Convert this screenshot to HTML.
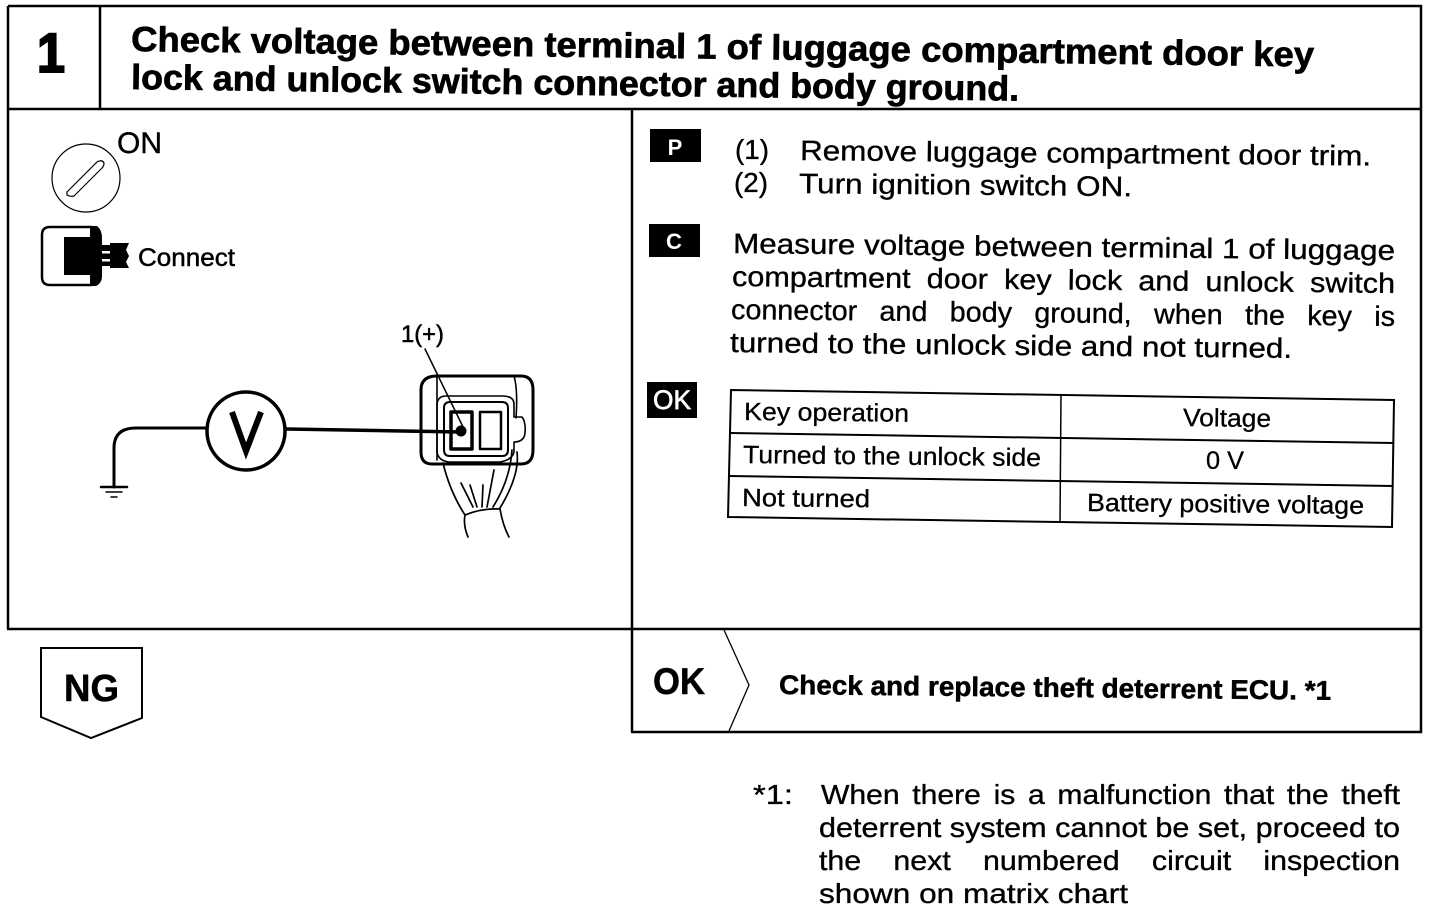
<!DOCTYPE html>
<html><head><meta charset="utf-8"><style>
html,body{margin:0;padding:0;background:#fff}
svg{display:block}
text{font-family:"Liberation Sans",sans-serif;fill:#000}
.b{font-weight:bold}
</style></head><body>
<svg width="1440" height="910" viewBox="0 0 1440 910" xmlns="http://www.w3.org/2000/svg">
<g fill="none" stroke="#000" stroke-width="2.5">
<path d="M8 6H1421V732H631M8 6V629M8 109H1421M100 6V109M632 109V732M7 629H1421"/>
</g>
<text x="37" y="72" class="b" font-size="56" textLength="28" lengthAdjust="spacingAndGlyphs" stroke="#000" stroke-width="2">1</text>
<g stroke="#000" stroke-width=".7">
<text x="131" y="51" class="b" font-size="35" textLength="1183" lengthAdjust="spacingAndGlyphs" transform="rotate(0.75 131 51)">Check voltage between terminal 1 of luggage compartment door key</text>
<text x="131" y="89" class="b" font-size="35" textLength="888" lengthAdjust="spacingAndGlyphs" transform="rotate(0.75 131 89)">lock and unlock switch connector and body ground.</text>
</g>

<!-- ignition -->
<text x="117" y="153" font-size="30" textLength="45" lengthAdjust="spacingAndGlyphs" stroke="#000" stroke-width=".4">ON</text>
<circle cx="86" cy="178" r="34" fill="none" stroke="#000" stroke-width="1.2"/>
<path d="M67 192L97 162Q102 159 104 163Q104 166 102 168L74 196Q70 197 67 195Z" fill="none" stroke="#000" stroke-width="1.2"/>
<!-- connector icon -->
<path d="M92 227H50Q42 227 42 235V277Q42 285 50 285H92" fill="#fff" stroke="#000" stroke-width="2.5"/>
<path d="M64 237H90V226H97Q102 230 102 238V245H110V243H129L126 250L129 256L126 262L129 268H110V266H102V276Q102 283 96 286H90V275H64Z" fill="#000"/>
<rect x="102" y="251" width="8" height="2.5" fill="#fff"/><rect x="102" y="259" width="8" height="2.5" fill="#fff"/>
<text x="138" y="266" font-size="25" textLength="97" lengthAdjust="spacingAndGlyphs" stroke="#000" stroke-width=".5">Connect</text>

<!-- meter -->
<text x="401" y="342" font-size="24" textLength="43" lengthAdjust="spacingAndGlyphs" stroke="#000" stroke-width=".5">1(+)</text>
<g fill="none" stroke="#000" stroke-linejoin="round" stroke-linecap="round">
<path d="M205 428H136Q114 428 114 448V487" stroke-width="3"/>
<path d="M101 487H127" stroke-width="2.5"/>
<path d="M106 492H122" stroke-width="1.5"/>
<path d="M111 497H117" stroke-width="1.5"/>
<circle cx="246" cy="431" r="39" stroke-width="3.5"/>
<path d="M232 412L246 451L261 412" stroke-width="6" stroke-linecap="butt" stroke-linejoin="miter"/>
<path d="M287 429L461 432" stroke-width="3.5"/>
<path d="M425 349L465 431" stroke-width="1.5"/>
<path d="M437 376H521Q533 376 533 390V450Q533 464 521 464H432Q421 464 421 452V390Q421 376 437 376Z" stroke-width="3"/>
<path d="M437 374V460M514 376Q518 390 516 418" stroke-width="1.6"/>
<path d="M446 396H502Q514 396 514 404V417H522Q526 422 525 433Q524 442 514 442V452Q512 460 500 462H448Q438 460 437 452V404Q438 396 446 396Z" stroke-width="1.6"/>
<path d="M450 402H502Q508 402 508 408V450Q508 456 502 456H450Q444 456 444 450V408Q444 402 450 402Z" stroke-width="2"/>
<rect x="451" y="412" width="21" height="37" stroke-width="3.5"/>
<rect x="480" y="412" width="21" height="37" stroke-width="2.5"/>
<path d="M443 463Q450 492 465 515M517 452Q520 475 500 508M461 483L473 507M470 485L477 507M483 485L482 507M494 470L487 507M512 450Q510 480 493 507" stroke-width="1.7"/>
<path d="M465 515Q482 508 500 509M465 515Q463 525 468 537M500 509Q503 526 509 537" stroke-width="1.7"/>
</g>
<circle cx="461" cy="431" r="5.5" fill="#000"/>

<!-- badges -->
<rect x="650" y="129" width="51" height="33" fill="#000"/>
<text x="675" y="155" class="b" font-size="22" text-anchor="middle" style="fill:#fff">P</text>
<rect x="649" y="224" width="51" height="33" fill="#000"/>
<text x="674" y="249" class="b" font-size="22" text-anchor="middle" style="fill:#fff">C</text>
<rect x="647" y="382" width="50" height="36" fill="#000"/>
<text x="672" y="409" font-size="27" text-anchor="middle" textLength="38" lengthAdjust="spacingAndGlyphs" style="fill:#fff" stroke="#fff" stroke-width=".7">OK</text>

<!-- right text -->
<g font-size="28" stroke="#000" stroke-width=".35">
<text x="735" y="159" textLength="34" lengthAdjust="spacingAndGlyphs">(1)</text>
<text x="800" y="160" textLength="571" lengthAdjust="spacingAndGlyphs" transform="rotate(0.55 800 160)">Remove luggage compartment door trim.</text>
<text x="734" y="192" textLength="34" lengthAdjust="spacingAndGlyphs">(2)</text>
<text x="799" y="193" textLength="333" lengthAdjust="spacingAndGlyphs" transform="rotate(0.55 799 193)">Turn ignition switch ON.</text>
<text x="733" y="253" textLength="662" lengthAdjust="spacingAndGlyphs" transform="rotate(0.6 733 253)">Measure voltage between terminal 1 of luggage</text>
<text x="732" y="286" textLength="663" lengthAdjust="spacingAndGlyphs" transform="rotate(0.6 732 286)" word-spacing="7">compartment door key lock and unlock switch</text>
<text x="731" y="319" textLength="664" lengthAdjust="spacingAndGlyphs" transform="rotate(0.6 731 319)" word-spacing="14">connector and body ground, when the key is</text>
<text x="730" y="352" textLength="562" lengthAdjust="spacingAndGlyphs" transform="rotate(0.6 730 352)">turned to the unlock side and not turned.</text>
</g>

<!-- table -->
<g fill="none" stroke="#000" stroke-width="2">
<path d="M731 390L1394 400L1392 527L728 517Z"/>
<path d="M1061 395L1060 522" stroke-width="1.5"/>
<path d="M730 433L1394 443M729 476L1393 486" stroke-width="2"/>
</g>
<g font-size="25" stroke="#000" stroke-width=".3">
<text x="744" y="420" textLength="165" lengthAdjust="spacingAndGlyphs" transform="rotate(.6 744 420)">Key operation</text>
<text x="1183" y="426" textLength="88" lengthAdjust="spacingAndGlyphs" transform="rotate(.6 1183 426)">Voltage</text>
<text x="743" y="463" textLength="298" lengthAdjust="spacingAndGlyphs" transform="rotate(.6 743 463)">Turned to the unlock side</text>
<text x="1206" y="469" textLength="38" lengthAdjust="spacingAndGlyphs">0 V</text>
<text x="742" y="506" textLength="128" lengthAdjust="spacingAndGlyphs" transform="rotate(.6 742 506)">Not turned</text>
<text x="1087" y="511" textLength="277" lengthAdjust="spacingAndGlyphs" transform="rotate(.6 1087 511)">Battery positive voltage</text>
</g>

<!-- NG -->
<path d="M41 648H142V718L91 738L41 717Z" fill="none" stroke="#000" stroke-width="2"/>
<text x="64" y="701" class="b" font-size="38" textLength="55" lengthAdjust="spacingAndGlyphs" stroke="#000" stroke-width=".5">NG</text>
<!-- OK -->
<path d="M724 630L749 685L729 731" fill="none" stroke="#000" stroke-width="1.3"/>
<text x="653" y="694" class="b" font-size="37" textLength="52" lengthAdjust="spacingAndGlyphs" stroke="#000" stroke-width=".5">OK</text>
<text x="779" y="694" class="b" font-size="27" textLength="552" lengthAdjust="spacingAndGlyphs" transform="rotate(.6 779 694)" stroke="#000" stroke-width=".5">Check and replace theft deterrent ECU. *1</text>

<!-- footnote -->
<g font-size="28" stroke="#000" stroke-width=".35">
<text x="753" y="804" textLength="40" lengthAdjust="spacingAndGlyphs">*1:</text>
<text x="821" y="804" textLength="579" lengthAdjust="spacingAndGlyphs" word-spacing="4">When there is a malfunction that the theft</text>
<text x="819" y="837" textLength="581" lengthAdjust="spacingAndGlyphs">deterrent system cannot be set, proceed to</text>
<text x="819" y="870" textLength="581" lengthAdjust="spacingAndGlyphs" word-spacing="22">the next numbered circuit inspection</text>
<text x="819" y="903" textLength="309" lengthAdjust="spacingAndGlyphs">shown on matrix chart</text>
</g>
</svg>
</body></html>
